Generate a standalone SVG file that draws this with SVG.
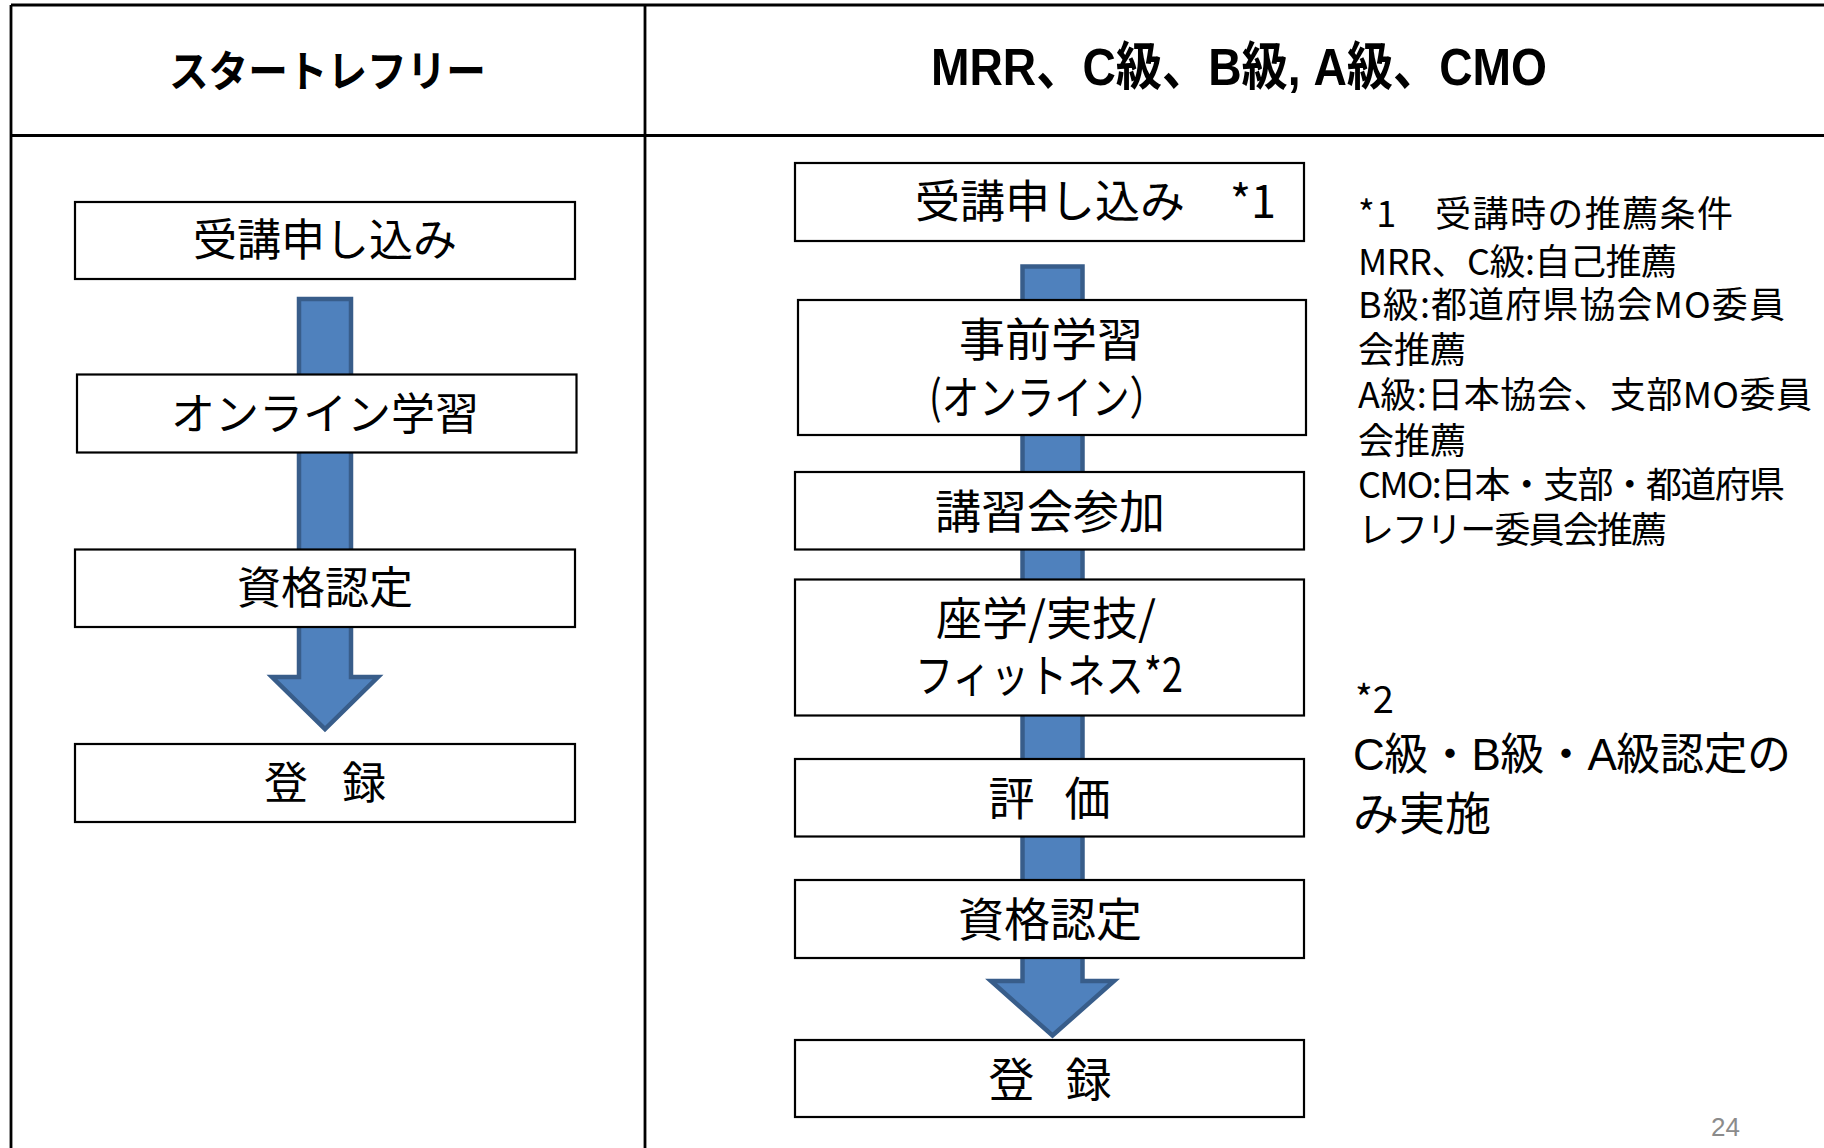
<svg xmlns="http://www.w3.org/2000/svg" width="1824" height="1148" viewBox="0 0 1824 1148">
<style>
.frame{stroke:#000;stroke-width:2.8;fill:none}
.box{fill:#fff;stroke:#000;stroke-width:2.2}
.arrow{fill:#4F81BD;stroke:#385D8A;stroke-width:4.5;stroke-linejoin:miter}
.jp{font-family:"Noto Sans CJK JP","Liberation Sans",sans-serif;fill:#000}
.lbl{font-size:44px;text-anchor:middle;dominant-baseline:central}
.lblr{font-size:46px;text-anchor:middle;dominant-baseline:central}
.note{font-size:36px;dominant-baseline:central}
.title{font-weight:bold;text-anchor:middle;dominant-baseline:central}
</style>
<rect width="1824" height="1148" fill="#fff"/>
<g id="frame">
<line class="frame" x1="11" y1="5" x2="1824" y2="5"/>
<line class="frame" x1="11" y1="5" x2="11" y2="1148"/>
<line class="frame" x1="645" y1="5" x2="645" y2="1148"/>
<line class="frame" x1="11" y1="135.5" x2="1824" y2="135.5"/>
<text class="jp title" x="327.5" y="68" font-size="43" textLength="317" lengthAdjust="spacingAndGlyphs">スタートレフリー</text>
<text class="title" x="1239" y="67" font-size="52" textLength="616" lengthAdjust="spacingAndGlyphs" style="font-family:'Liberation Sans','Noto Sans CJK JP',sans-serif">MRR、C級、B級, A級、CMO</text>
</g>
<g id="connectors">
<path class="arrow" d="M299,299 H351 V677 H378 L325,729 L272,677 H299 Z"/>
<path class="arrow" d="M1022.5,266.5 H1082.5 V981 H1114 L1052.5,1035.5 L991,981 H1022.5 Z"/>
</g>
<g id="left-apply">
<rect class="box" x="75" y="202" width="500" height="77"/>
<text class="jp lbl" x="325" y="237">受講申し込み</text>
</g>
<g id="left-online">
<rect class="box" x="77" y="374.5" width="499.5" height="78"/>
<text class="jp lbl" x="325" y="411">オンライン学習</text>
</g>
<g id="left-cert">
<rect class="box" x="75" y="549.5" width="500" height="77.5"/>
<text class="jp lbl" x="325" y="585">資格認定</text>
</g>
<g id="left-register">
<rect class="box" x="75" y="744" width="500" height="78"/>
<text class="jp lbl" x="325" y="779.5" textLength="122" lengthAdjust="spacing">登　録</text>
</g>
<g id="right-apply">
<rect class="box" x="795" y="163" width="509" height="78"/>
<text class="jp" x="915" y="198.5" font-size="45" dominant-baseline="central">受講申し込み　*1</text>
</g>
<g id="right-prestudy">
<rect class="box" x="798" y="300" width="508" height="135"/>
<text class="jp lblr" x="1051" y="335.5">事前学習</text>
<text class="jp lblr" x="1048" y="393.5" textLength="238" lengthAdjust="spacingAndGlyphs">(オンライン）</text>
</g>
<g id="right-course">
<rect class="box" x="795" y="472" width="509" height="77.5"/>
<text class="jp lblr" x="1050" y="508">講習会参加</text>
</g>
<g id="right-practice">
<rect class="box" x="795" y="579.5" width="509" height="136"/>
<text class="jp lblr" x="1046" y="614.5">座学/実技/</text>
<text class="jp lblr" x="1049" y="672" textLength="268" lengthAdjust="spacingAndGlyphs">フィットネス*2</text>
</g>
<g id="right-eval">
<rect class="box" x="795" y="759" width="509" height="77.5"/>
<text class="jp lblr" x="1049.5" y="795" textLength="122" lengthAdjust="spacing">評　価</text>
</g>
<g id="right-cert">
<rect class="box" x="795" y="880" width="509" height="78"/>
<text class="jp lblr" x="1050" y="915.5">資格認定</text>
</g>
<g id="right-register">
<rect class="box" x="795" y="1040" width="509" height="77"/>
<text class="jp lblr" x="1050" y="1075.5" textLength="123" lengthAdjust="spacing">登　録</text>
</g>
<g id="note1">
<text class="jp note" x="1358" y="211" textLength="375" lengthAdjust="spacing">*1　受講時の推薦条件</text>
<text class="jp note" x="1358" y="258.5" textLength="319" lengthAdjust="spacing">MRR、C級:自己推薦</text>
<text class="jp note" x="1358" y="302" textLength="427" lengthAdjust="spacing">B級:都道府県協会MO委員</text>
<text class="jp note" x="1358" y="347">会推薦</text>
<text class="jp note" x="1358" y="392" textLength="454" lengthAdjust="spacing">A級:日本協会、支部MO委員</text>
<text class="jp note" x="1358" y="438">会推薦</text>
<text class="jp note" x="1358" y="482" textLength="427" lengthAdjust="spacing">CMO:日本・支部・都道府県</text>
<text class="jp note" x="1358" y="527" textLength="309" lengthAdjust="spacing">レフリー委員会推薦</text>
</g>
<g id="note2">
<text class="jp" x="1355" y="696" font-size="38" dominant-baseline="central">*2</text>
<text x="1353" y="754" font-size="44" dominant-baseline="central" textLength="438" lengthAdjust="spacing" style="font-family:'Liberation Sans','Noto Sans CJK JP',sans-serif">C級・B級・A級認定の</text>
<text class="jp" x="1353" y="810" font-size="46" dominant-baseline="central">み実施</text>
</g>
<text x="1711" y="1136" font-size="26" fill="#8b8b8b" style="font-family:'Liberation Sans',sans-serif">24</text>
</svg>
